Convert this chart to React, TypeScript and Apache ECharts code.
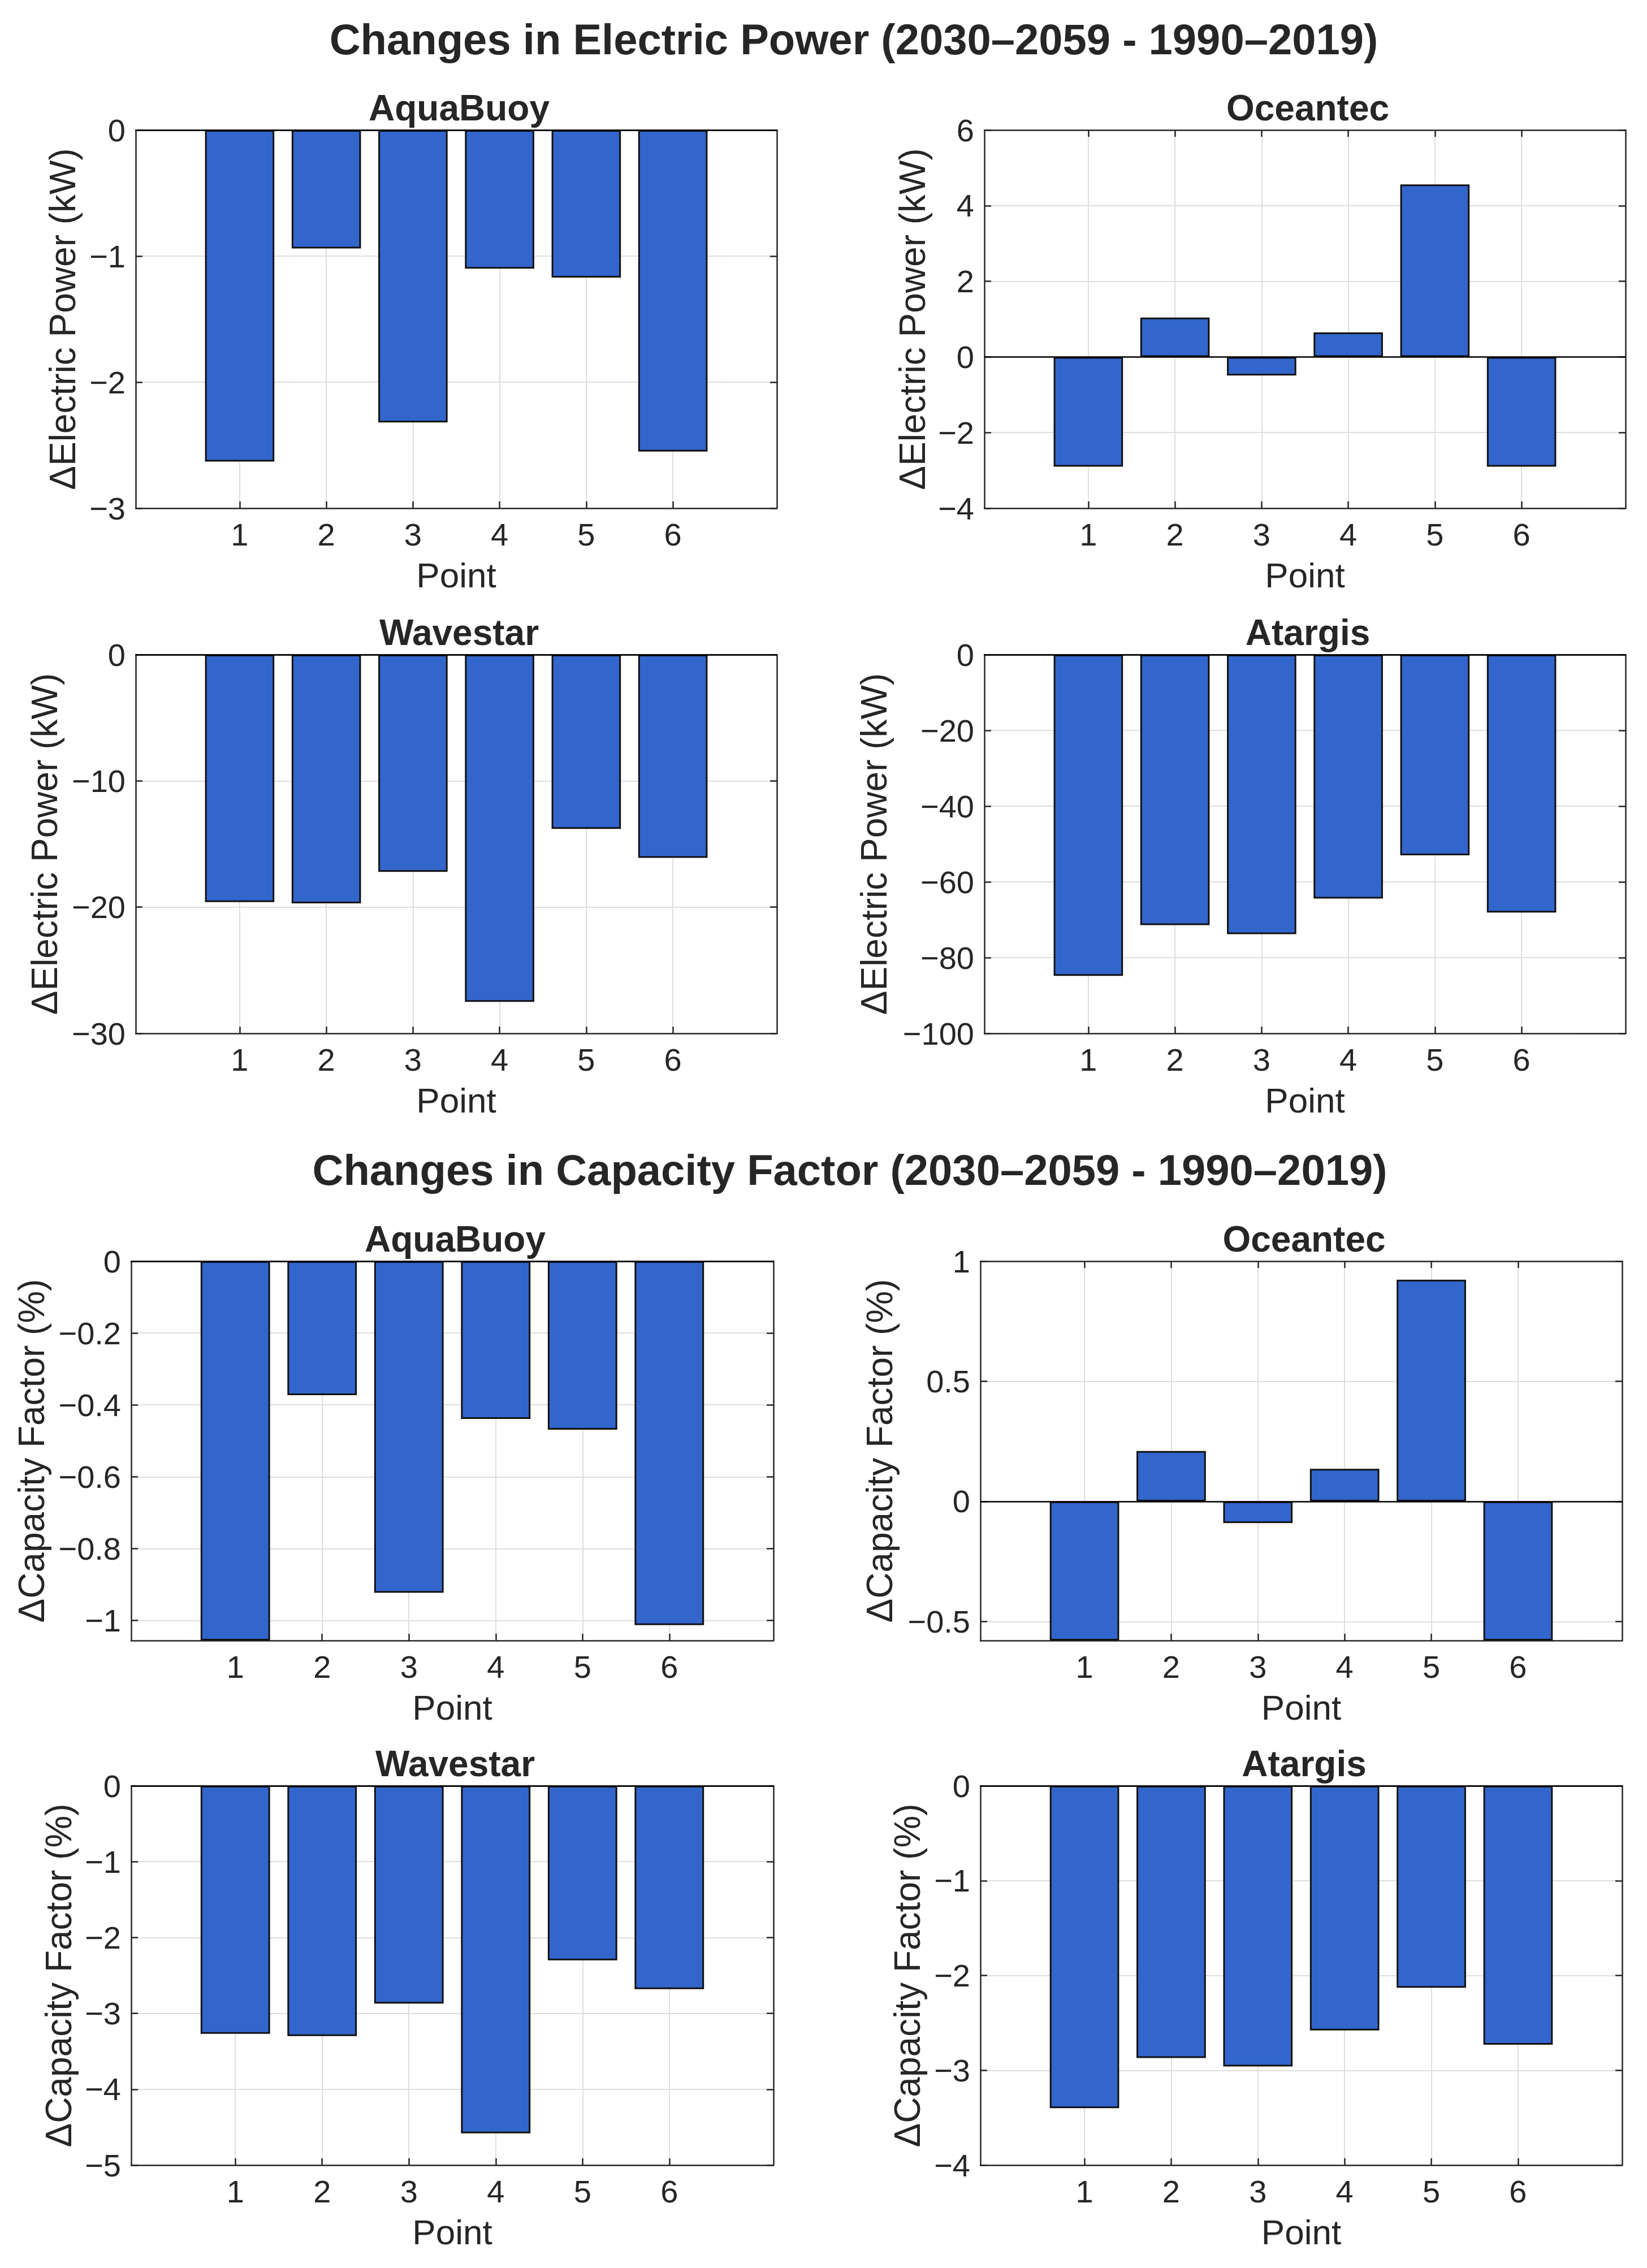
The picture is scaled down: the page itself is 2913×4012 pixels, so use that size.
import React, { useEffect, useRef } from "react";
import * as echarts from "echarts";

// Points along the coast (x axis)
const points = [1, 2, 3, 4, 5, 6];

// Change in electric power (kW), 2030–2059 minus 1990–2019
const epAquaBuoy = [-2.63, -0.94, -2.32, -1.1, -1.17, -2.55];
const epOceantec = [-2.9, 1.04, -0.49, 0.65, 4.56, -2.9];
const epWavestar = [-19.6, -19.7, -17.2, -27.5, -13.8, -16.1];
const epAtargis = [-84.8, -71.4, -73.8, -64.4, -53.0, -68.1];

// Change in capacity factor (%)
const cfAquaBuoy = [-1.056, -0.373, -0.923, -0.439, -0.469, -1.013];
const cfOceantec = [-0.579, 0.21, -0.09, 0.136, 0.923, -0.579];
const cfWavestar = [-3.27, -3.3, -2.87, -4.58, -2.3, -2.68];
const cfAtargis = [-3.4, -2.87, -2.96, -2.58, -2.13, -2.73];

// y tick labels
const epAquaBuoyTicks = [-3, -2, -1, 0];
const epOceantecTicks = [-4, -2, 0, 2, 4, 6];
const epWavestarTicks = [-30, -20, -10, 0];
const epAtargisTicks = [-100, -80, -60, -40, -20, 0];
const cfAquaBuoyTicks = [-1, -0.8, -0.6, -0.4, -0.2, 0];
const cfOceantecTicks = [-0.5, 0, 0.5, 1];
const cfWavestarTicks = [-5, -4, -3, -2, -1, 0];
const cfAtargisTicks = [-4, -3, -2, -1, 0];

const X_MIN = -0.2;
const X_MAX = 7.2;

const FONT = "'Liberation Sans', Arial, Helvetica, sans-serif";
const TEXT = "#262626";
const BAR = "#3366CC";
const GRID = "#dedede";

const EP_LABEL = "ΔElectric Power (kW)";
const CF_LABEL = "ΔCapacity Factor (%)";

const panels = [
  { name: "AquaBuoy", data: epAquaBuoy, ticks: epAquaBuoyTicks, min: -3, max: 0, label: EP_LABEL, box: [240, 230, 1134, 669], gap: 97 },
  { name: "Oceantec", data: epOceantec, ticks: epOceantecTicks, min: -4, max: 6, label: EP_LABEL, box: [1741, 230, 1134, 669], gap: 95 },
  { name: "Wavestar", data: epWavestar, ticks: epWavestarTicks, min: -30, max: 0, label: EP_LABEL, box: [240, 1158, 1134, 670], gap: 129 },
  { name: "Atargis", data: epAtargis, ticks: epAtargisTicks, min: -100, max: 0, label: EP_LABEL, box: [1741, 1158, 1134, 670], gap: 163 },
  { name: "AquaBuoy", data: cfAquaBuoy, ticks: cfAquaBuoyTicks, min: -1.056, max: 0, label: CF_LABEL, box: [232, 2231, 1136, 671], gap: 144 },
  { name: "Oceantec", data: cfOceantec, ticks: cfOceantecTicks, min: -0.579, max: 1, label: CF_LABEL, box: [1734, 2231, 1135, 671], gap: 146 },
  { name: "Wavestar", data: cfWavestar, ticks: cfWavestarTicks, min: -5, max: 0, label: CF_LABEL, box: [232, 3159, 1136, 671], gap: 96 },
  { name: "Atargis", data: cfAtargis, ticks: cfAtargisTicks, min: -4, max: 0, label: CF_LABEL, box: [1734, 3159, 1135, 671], gap: 97 },
];

const minus = (v: any) => String(v).replace("-", "\u2212");

export default function App() {
  const chartRef = useRef<HTMLDivElement>(null);

  useEffect(() => {
    if (!chartRef.current) return;
    document.body.style.margin = "0";
    const chart = echarts.init(chartRef.current, undefined, { renderer: "svg" });

    const grid: any[] = [];
    const xAxis: any[] = [];
    const yAxis: any[] = [];
    const series: any[] = [];
    const title: any[] = [
      {
        text: "Changes in Electric Power (2030–2059 - 1990–2019)",
        left: 1505,
        top: 26,
        textAlign: "center",
        textStyle: { fontFamily: FONT, fontSize: 76, fontWeight: "bold", color: TEXT },
      },
      {
        text: "Changes in Capacity Factor (2030–2059 - 1990–2019)",
        left: 1498,
        top: 2026,
        textAlign: "center",
        textStyle: { fontFamily: FONT, fontSize: 76, fontWeight: "bold", color: TEXT },
      },
    ];

    const axisLine = { show: true, onZero: false, lineStyle: { color: TEXT, width: 2.5 } };
    const tickStyle = { color: TEXT, width: 2.5 };

    panels.forEach((p, i) => {
      const [left, top, width, height] = p.box;
      grid.push({ left, top, width, height, containLabel: false });

      title.push({
        text: p.name,
        left: left + width / 2,
        top: top - 76,
        textAlign: "center",
        textStyle: { fontFamily: FONT, fontSize: 64, fontWeight: "bold", color: TEXT },
      });

      xAxis.push({
        type: "value",
        gridIndex: i,
        min: X_MIN,
        max: X_MAX,
        position: "bottom",
        name: "Point",
        nameLocation: "middle",
        nameGap: 87,
        nameTextStyle: { fontFamily: FONT, fontSize: 62, color: TEXT },
        axisLine,
        axisTick: { show: true, inside: true, length: 12, customValues: points, lineStyle: tickStyle },
        axisLabel: { show: true, customValues: points, margin: 18, fontFamily: FONT, fontSize: 56, color: TEXT },
        splitLine: { show: true, lineStyle: { color: GRID, width: 2 } },
      });
      xAxis.push({
        type: "value",
        gridIndex: i,
        min: X_MIN,
        max: X_MAX,
        position: "top",
        axisLine,
        axisTick: { show: true, inside: true, length: 12, customValues: points, lineStyle: tickStyle },
        axisLabel: { show: false },
        splitLine: { show: false },
      });

      yAxis.push({
        type: "value",
        gridIndex: i,
        min: p.min,
        max: p.max,
        position: "left",
        name: p.label,
        nameLocation: "middle",
        nameGap: p.gap,
        nameTextStyle: { fontFamily: FONT, fontSize: 64, color: TEXT },
        axisLine,
        axisTick: { show: true, inside: true, length: 12, customValues: p.ticks, lineStyle: tickStyle },
        axisLabel: { show: true, customValues: p.ticks, margin: 18, fontFamily: FONT, fontSize: 56, color: TEXT, formatter: minus },
        splitLine: { show: true, lineStyle: { color: GRID, width: 2 } },
      });
      yAxis.push({
        type: "value",
        gridIndex: i,
        min: p.min,
        max: p.max,
        position: "right",
        axisLine,
        axisTick: { show: true, inside: true, length: 12, customValues: p.ticks, lineStyle: tickStyle },
        axisLabel: { show: false },
        splitLine: { show: false },
      });

      const unitPx = width / (X_MAX - X_MIN);
      series.push({
        type: "bar",
        xAxisIndex: i * 2,
        yAxisIndex: i * 2,
        barWidth: 0.8 * unitPx,
        data: points.map((x, k) => [x, p.data[k]]),
        itemStyle: { color: BAR, borderColor: "#111", borderWidth: 3 },
        clip: true,
        markLine: {
          silent: true,
          symbol: "none",
          label: { show: false },
          lineStyle: { color: "#000", width: 2.5, type: "solid" },
          data: [{ yAxis: 0 }],
        },
      });
    });

    chart.setOption({
      animation: false,
      backgroundColor: "#ffffff",
      title,
      grid,
      xAxis,
      yAxis,
      series,
    });

    return () => {
      chart.dispose();
    };
  }, []);

  return <div ref={chartRef} style={{ width: 2913, height: 4012 }} />;
}
